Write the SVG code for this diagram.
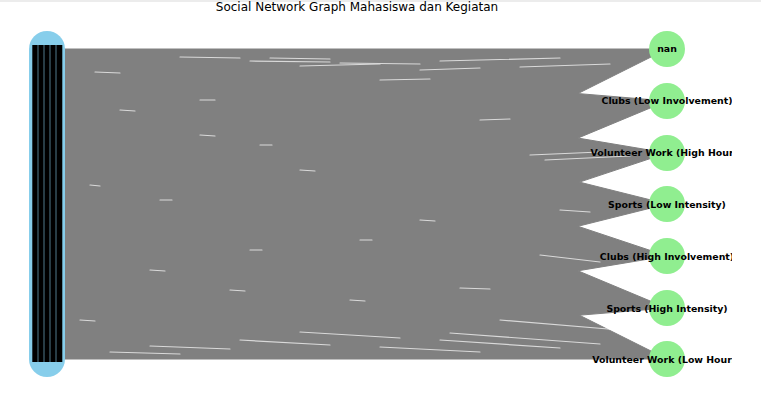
<svg xmlns="http://www.w3.org/2000/svg" width="761" height="403" viewBox="0 0 761 403">
<style>
.fan{fill:#808080;stroke:#808080;stroke-width:1}
.gap{stroke:#ffffff;stroke-width:1.2;stroke-linecap:round;opacity:0.7}
.act circle{fill:#90EE90}
.act text{font-family:"DejaVu Sans",sans-serif;font-weight:bold;font-size:9.4px;fill:#000;text-anchor:middle;dominant-baseline:central}
.bar{fill:#000}
.title{font-family:"DejaVu Sans",sans-serif;font-size:12px;fill:#000;text-anchor:middle}
</style>
<defs>
<clipPath id="ax"><rect x="0" y="14" width="732" height="389"/></clipPath>
</defs>
<rect width="761" height="403" fill="#fff"/>
<rect width="761" height="2" fill="#ececec"/>
<text class="title" x="357" y="11">Social Network Graph Mahasiswa dan Kegiatan</text>
<g id="connectors">
<polygon class="fan" points="47,49 47,359 667,49"/>
<polygon class="fan" points="47,49 47,359 667,101"/>
<polygon class="fan" points="47,49 47,359 667,153"/>
<polygon class="fan" points="47,49 47,359 667,204"/>
<polygon class="fan" points="47,49 47,359 667,256"/>
<polygon class="fan" points="47,49 47,359 667,308"/>
<polygon class="fan" points="47,49 47,359 667,359"/>
<g class="gap">
<line x1="250" y1="61" x2="330" y2="62"/>
<line x1="340" y1="63" x2="420" y2="64"/>
<line x1="300" y1="66" x2="380" y2="64"/>
<line x1="440" y1="61" x2="560" y2="58"/>
<line x1="180" y1="57" x2="240" y2="58"/>
<line x1="270" y1="58" x2="330" y2="59"/>
<line x1="420" y1="70" x2="480" y2="68"/>
<line x1="520" y1="67" x2="610" y2="64"/>
<line x1="95" y1="72" x2="120" y2="73"/>
<line x1="380" y1="80" x2="430" y2="79"/>
<line x1="530" y1="155" x2="600" y2="152"/>
<line x1="545" y1="160" x2="630" y2="156"/>
<line x1="120" y1="110" x2="135" y2="111"/>
<line x1="200" y1="135" x2="215" y2="136"/>
<line x1="300" y1="170" x2="315" y2="171"/>
<line x1="90" y1="185" x2="100" y2="186"/>
<line x1="420" y1="220" x2="435" y2="221"/>
<line x1="250" y1="250" x2="262" y2="250"/>
<line x1="150" y1="270" x2="165" y2="271"/>
<line x1="350" y1="300" x2="365" y2="301"/>
<line x1="460" y1="288" x2="490" y2="289"/>
<line x1="540" y1="255" x2="600" y2="262"/>
<line x1="300" y1="332" x2="400" y2="338"/>
<line x1="440" y1="340" x2="560" y2="348"/>
<line x1="240" y1="340" x2="330" y2="345"/>
<line x1="380" y1="347" x2="480" y2="352"/>
<line x1="150" y1="346" x2="230" y2="349"/>
<line x1="450" y1="333" x2="600" y2="344"/>
<line x1="110" y1="352" x2="180" y2="354"/>
<line x1="500" y1="320" x2="620" y2="330"/>
<line x1="200" y1="100" x2="215" y2="100"/>
<line x1="480" y1="120" x2="510" y2="119"/>
<line x1="160" y1="200" x2="172" y2="200"/>
<line x1="360" y1="240" x2="372" y2="240"/>
<line x1="230" y1="290" x2="245" y2="291"/>
<line x1="80" y1="320" x2="95" y2="321"/>
<line x1="560" y1="210" x2="590" y2="212"/>
<line x1="260" y1="145" x2="272" y2="145"/>
</g>
</g>
<g id="students">
<circle cx="47" cy="49" r="18" fill="#87CEEB"/>
<circle cx="47" cy="359" r="18" fill="#87CEEB"/>
<rect x="29" y="49" width="36" height="310" fill="#87CEEB"/>
<rect class="bar" x="32.3" y="45" width="5.4" height="317"/>
<rect class="bar" x="38.3" y="45" width="5.4" height="317"/>
<rect class="bar" x="44.3" y="45" width="5.4" height="317"/>
<rect class="bar" x="50.3" y="45" width="5.4" height="317"/>
<rect class="bar" x="56.3" y="45" width="6" height="317"/>
</g>
<g clip-path="url(#ax)">
<g id="act-nan" class="act"><circle cx="667" cy="49" r="18"/><text x="667" y="48">nan</text></g>
<g id="act-clubs-low" class="act"><circle cx="667" cy="101" r="18"/><text x="667" y="100">Clubs (Low Involvement)</text></g>
<g id="act-vol-high" class="act"><circle cx="667" cy="153" r="18"/><text x="667" y="152">Volunteer Work (High Hours)</text></g>
<g id="act-sports-low" class="act"><circle cx="667" cy="204" r="18"/><text x="667" y="204">Sports (Low Intensity)</text></g>
<g id="act-clubs-high" class="act"><circle cx="667" cy="256" r="18"/><text x="667" y="256">Clubs (High Involvement)</text></g>
<g id="act-sports-high" class="act"><circle cx="667" cy="308" r="18"/><text x="667" y="308">Sports (High Intensity)</text></g>
<g id="act-vol-low" class="act"><circle cx="667" cy="359" r="18"/><text x="667" y="359">Volunteer Work (Low Hours)</text></g>
</g>
</svg>
